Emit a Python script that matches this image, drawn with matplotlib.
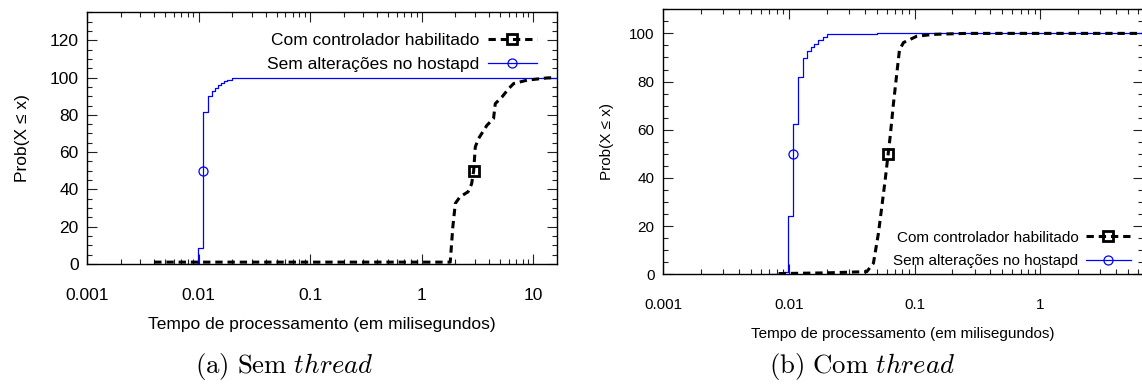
import matplotlib
matplotlib.use('Agg')
import matplotlib.pyplot as plt
from matplotlib.ticker import FuncFormatter, MultipleLocator, LogLocator, NullFormatter

plt.rcParams['font.family'] = ['Liberation Sans', 'DejaVu Sans']
plt.rcParams['mathtext.fontset'] = 'cm'

label_com = 'Com controlador habilitado'
label_sem = 'Sem alterações no hostapd'
xlabel = 'Tempo de processamento (em milisegundos)'
ylabel = 'Prob(X ≤ x)'

# (a) Sem thread -- CDF em percentual
a_sem_x = [0.0075, 0.00995, 0.0110, 0.0121, 0.0131, 0.0139, 0.0148, 0.0158, 0.0168, 0.018, 0.020, 0.025, 0.04, 16]
a_sem_y = [0, 8.4, 81.6, 90.2, 92.8, 94.5, 96, 97, 98, 98.8, 99.5, 99.8, 100, 100]
a_com_x = [0.004, 1.80, 1.90, 2.0, 2.2, 2.6, 2.8, 2.92, 3.02, 3.23, 3.84, 4.4, 4.56, 5.24, 6.0, 6.67, 8.8, 13.3, 16]
a_com_y = [1.0, 1.0, 20, 32.5, 36, 38.7, 43, 50, 62.8, 67.3, 74.4, 78, 86, 89.6, 94, 96.8, 98.6, 99.8, 100]
a_sem_med = 0.0110
a_com_med = 2.92

# (b) Com thread
b_sem_x = [0.0070, 0.00896, 0.00993, 0.01089, 0.0119, 0.0129, 0.0139, 0.0150, 0.0159, 0.0172, 0.0186, 0.020, 0.03, 0.05, 6.5]
b_sem_y = [0, 1.1, 24.4, 62.5, 82.1, 89.9, 92.5, 94.3, 95.7, 97.1, 98.5, 99.6, 99.8, 100, 100]
b_com_x = [0.0083, 0.02, 0.0417, 0.0471, 0.0516, 0.0549, 0.0584, 0.0617, 0.0640, 0.068, 0.0723, 0.0759, 0.0817, 0.104, 0.141, 0.26, 6.5]
b_com_y = [0.3, 0.6, 1.1, 4.6, 17, 28, 39.2, 50, 57.2, 71, 83.5, 93.2, 96.2, 98.8, 99.6, 100, 100]
b_sem_med = 0.0109
b_com_med = 0.0617

W, H = 1142, 392
fig = plt.figure(figsize=(W / 100, H / 100), dpi=100)


def make_panel(rect, sem_x, sem_y, com_x, com_y, sem_med, com_med, xmax, ymax, fs):
    ax = fig.add_axes(rect)
    l_sem, = ax.plot(sem_x, sem_y, color='#0000ff', lw=0.9, drawstyle='steps-post')
    m_sem, = ax.plot([sem_med], [50], ls='none', marker='o', ms=6.5, mfc='none',
                     mec='#0000ff', mew=0.9)
    l_com, = ax.plot(com_x, com_y, color='black', lw=2.2, dashes=(2.4, 1.6))
    m_com, = ax.plot([com_med], [50], ls='none', marker='s', ms=6.5, mfc='none',
                     mec='black', mew=2.0)
    ax.set_xscale('log')
    ax.set_xlim(0.001, xmax)
    ax.set_ylim(0, ymax)
    ax.xaxis.set_major_locator(LogLocator(base=10, numticks=10))
    ax.xaxis.set_minor_locator(LogLocator(base=10, subs=range(2, 10), numticks=20))
    ax.xaxis.set_minor_formatter(NullFormatter())
    ax.xaxis.set_major_formatter(FuncFormatter(lambda v, p: '%g' % v))
    ax.yaxis.set_major_locator(MultipleLocator(20))
    ax.yaxis.set_minor_locator(MultipleLocator(5))
    ax.tick_params(which='both', direction='in', top=True, right=True, width=0.8,
                   labelsize=fs, color='#222222')
    ax.tick_params(which='major', length=7.2)
    ax.tick_params(which='minor', length=3.6)
    ax.tick_params(axis='x', pad=17)
    ax.tick_params(axis='y', pad=6)
    for s in ax.spines.values():
        s.set_linewidth(1.0)
    return ax, [(l_com, m_com), (l_sem, m_sem)]


# painel (a)
ax1, h1 = make_panel([87 / W, 1 - 264 / H, 470 / W, 251.7 / H],
                     a_sem_x, a_sem_y, a_com_x, a_com_y, a_sem_med, a_com_med, 16.3, 135, 12.5)
ax1.set_xlabel(xlabel, fontsize=12.5, labelpad=10)
ax1.set_ylabel(ylabel, fontsize=12.5, labelpad=14)
ax1.legend(h1, [label_com, label_sem],
           loc='upper right', bbox_to_anchor=(0.957, 0.92), frameon=False, fontsize=12.5,
           markerfirst=False, handlelength=2.8, handletextpad=0.5, labelspacing=0.53,
           borderpad=0, borderaxespad=0)

# painel (b)
ax2, h2 = make_panel([663 / W, 1 - 274.3 / H, 480 / W, 265 / H],
                     b_sem_x, b_sem_y, b_com_x, b_com_y, b_sem_med, b_com_med, 6.55, 110, 11)
ax2.set_xlabel(xlabel, fontsize=11, labelpad=11)
ax2.set_ylabel(ylabel, fontsize=11, labelpad=11)
ax2.legend(h2, [label_com, label_sem],
           loc='lower right', bbox_to_anchor=(0.974, 0.024), frameon=False, fontsize=11,
           markerfirst=False, handlelength=2.9, handletextpad=0.5, labelspacing=0.61,
           borderpad=0, borderaxespad=0)

fig.text(284 / W, 1 - 367 / H, r'$\mathrm{(a)\ Sem}\ \mathit{thread}$', ha='center', va='center', fontsize=19.3)
fig.text(862 / W, 1 - 367 / H, r'$\mathrm{(b)\ Com}\ \mathit{thread}$', ha='center', va='center', fontsize=19.3)

fig.savefig('out.png', dpi=100)
